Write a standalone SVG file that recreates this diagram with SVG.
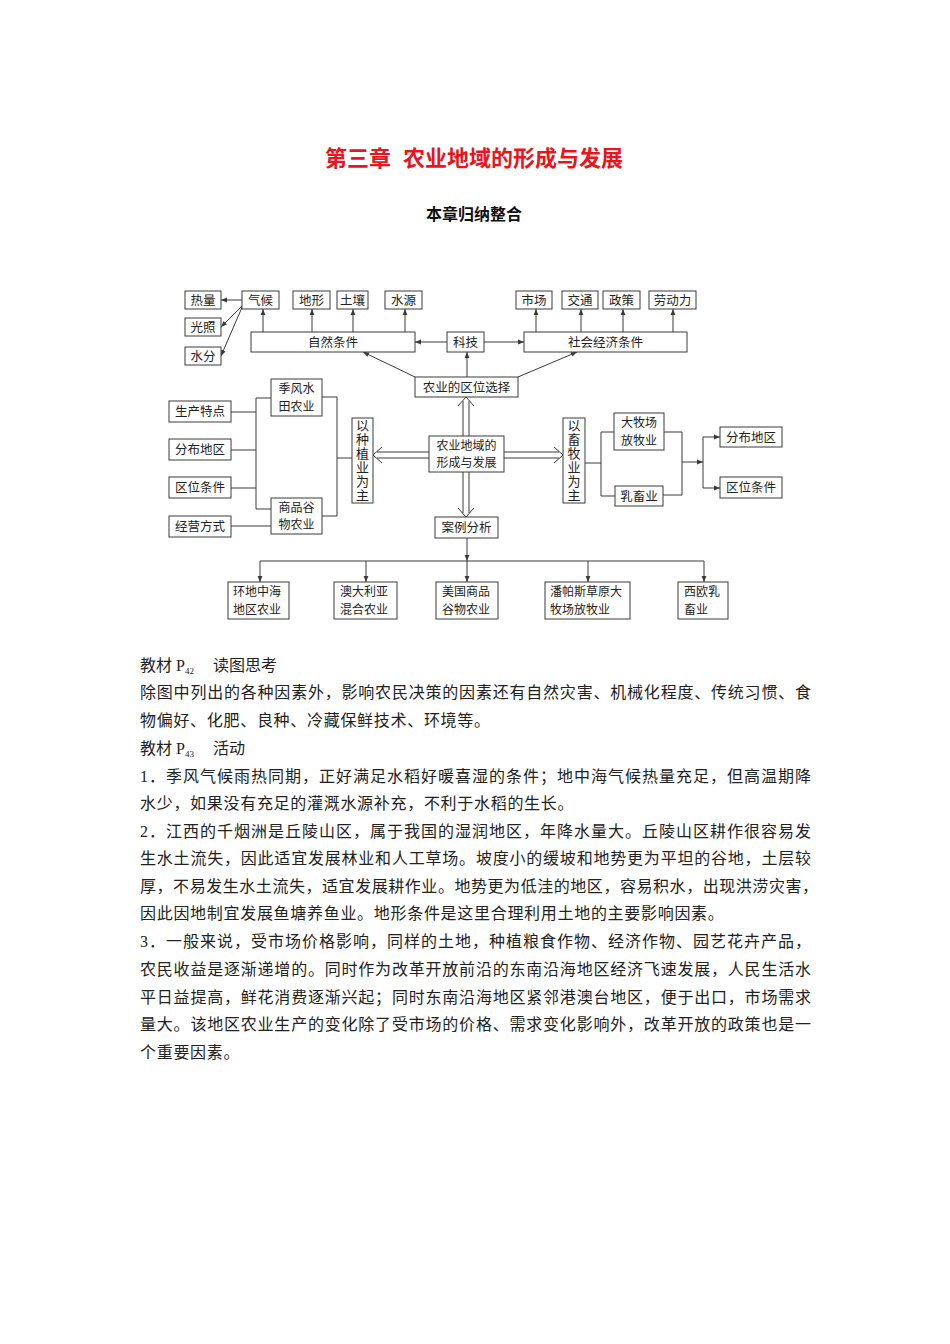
<svg xmlns="http://www.w3.org/2000/svg" width="950" height="1344" viewBox="0 0 950 1344">
<defs>
<style>
.b{fill:#fff;stroke:#3a3a3a;stroke-width:1}
.t{font-family:"Noto Sans CJK SC","Liberation Sans",sans-serif;font-size:12.5px;fill:#222;text-anchor:middle}
.t2{font-family:"Noto Sans CJK SC","Liberation Sans",sans-serif;font-size:12px;fill:#222;text-anchor:middle}
.tl{font-family:"Noto Sans CJK SC","Liberation Sans",sans-serif;font-size:12px;fill:#222}
.v{font-family:"Noto Sans CJK SC","Liberation Sans",sans-serif;font-size:13px;fill:#222;text-anchor:middle;writing-mode:vertical-rl;letter-spacing:1px}
.c{stroke:#3a3a3a;stroke-width:1;fill:none}
.ca{stroke:#3a3a3a;stroke-width:1;fill:none;marker-end:url(#ah)}
.p{font-family:"Liberation Serif","Noto Sans CJK SC",serif;font-size:16px;fill:#222;letter-spacing:0.7px}
.j{font-family:"Liberation Serif","Noto Sans CJK SC",serif;font-size:16px;fill:#222}
.sub{font-size:9px}
</style>
<marker id="ah" viewBox="0 0 10 10" refX="10" refY="5" markerWidth="7" markerHeight="6" orient="auto" markerUnits="userSpaceOnUse">
<path d="M0,1 L10,5 L0,9 z" fill="#3a3a3a"/>
</marker>
</defs>
<rect width="950" height="1344" fill="#fff"/>

<g id="title">
<text x="325" y="166" font-family="Noto Sans CJK SC,sans-serif" font-size="22" font-weight="bold" fill="#e8161c">第三章</text>
<text x="403" y="166" font-family="Noto Sans CJK SC,sans-serif" font-size="22" font-weight="bold" fill="#e8161c">农业地域的形成与发展</text>
<text x="474" y="220" font-family="Noto Sans CJK SC,sans-serif" font-size="16" font-weight="bold" fill="#111" text-anchor="middle">本章归纳整合</text>
</g>

<g id="connectors">
<line class="ca" x1="242" y1="300" x2="221" y2="300"/>
<line class="ca" x1="243" y1="305" x2="221" y2="327"/>
<line class="ca" x1="243" y1="305" x2="221" y2="356"/>
<line class="ca" x1="263" y1="332" x2="263" y2="309"/>
<line class="ca" x1="312" y1="332" x2="312" y2="309"/>
<line class="ca" x1="353" y1="332" x2="353" y2="309"/>
<line class="ca" x1="405" y1="332" x2="405" y2="309"/>
<line class="ca" x1="536" y1="332" x2="536" y2="309"/>
<line class="ca" x1="581" y1="332" x2="581" y2="309"/>
<line class="ca" x1="623" y1="332" x2="623" y2="309"/>
<line class="ca" x1="673" y1="332" x2="673" y2="309"/>
<line class="ca" x1="447" y1="342" x2="415" y2="342"/>
<line class="ca" x1="484" y1="342" x2="524" y2="342"/>
<line class="ca" x1="467" y1="377" x2="467" y2="352"/>
<line class="ca" x1="415" y1="377" x2="363" y2="352"/>
<line class="ca" x1="518" y1="377" x2="577" y2="352"/>
<path class="c" d="M463,436 V401 M469,436 V401 M458,406 L466,397 L474,406"/>
<path class="c" d="M463,472 V513 M469,472 V513 M458,508 L466,517 L474,508"/>
<path class="c" d="M429,452 H377 M429,458 H377 M382,447 L373,455 L382,463"/>
<path class="c" d="M504,452 H559 M504,458 H559 M554,447 L563,455 L554,463"/>
<path class="c" d="M271,398 H256 V509 H271"/>
<path class="c" d="M231,412 H256 M231,450 H256 M231,488 H256"/>
<path class="c" d="M231,526 H271"/>
<path class="c" d="M322,397 H337 V516 H322 M337,458 H352"/>
<path class="c" d="M585,463 H601 M614,432 H601 V496 H615"/>
<path class="c" d="M664,432 H682 V495 H663"/>
<line class="ca" x1="682" y1="462" x2="703" y2="462"/>
<path class="c" d="M703,437 V488"/>
<line class="ca" x1="703" y1="437" x2="720" y2="437"/>
<line class="ca" x1="703" y1="488" x2="720" y2="488"/>
<line class="ca" x1="467" y1="538" x2="467" y2="561"/>
<path class="c" d="M260,561 H704"/>
<line class="ca" x1="260" y1="561" x2="260" y2="582"/>
<line class="ca" x1="366" y1="561" x2="366" y2="582"/>
<line class="ca" x1="467" y1="561" x2="467" y2="582"/>
<line class="ca" x1="588" y1="561" x2="588" y2="582"/>
<line class="ca" x1="704" y1="561" x2="704" y2="582"/>
</g>

<g id="n-heat"><rect class="b" x="185" y="291" width="36" height="18"/><text class="t" x="203" y="304.5">热量</text></g>
<g id="n-light"><rect class="b" x="185" y="318" width="36" height="18"/><text class="t" x="203" y="331.5">光照</text></g>
<g id="n-water"><rect class="b" x="185" y="347" width="36" height="18"/><text class="t" x="203" y="360.5">水分</text></g>
<g id="n-climate"><rect class="b" x="242" y="291" width="37" height="18"/><text class="t" x="260.5" y="304.5">气候</text></g>
<g id="n-terrain"><rect class="b" x="293" y="291" width="37" height="18"/><text class="t" x="311.5" y="304.5">地形</text></g>
<g id="n-soil"><rect class="b" x="337" y="291" width="31" height="18"/><text class="t" x="352.5" y="304.5">土壤</text></g>
<g id="n-source"><rect class="b" x="385" y="291" width="37" height="18"/><text class="t" x="403.5" y="304.5">水源</text></g>
<g id="n-market"><rect class="b" x="516" y="291" width="36" height="18"/><text class="t" x="534" y="304.5">市场</text></g>
<g id="n-traffic"><rect class="b" x="562" y="291" width="36" height="18"/><text class="t" x="580" y="304.5">交通</text></g>
<g id="n-policy"><rect class="b" x="603" y="291" width="37" height="18"/><text class="t" x="621.5" y="304.5">政策</text></g>
<g id="n-labor"><rect class="b" x="649" y="291" width="47" height="18"/><text class="t" x="672.5" y="304.5">劳动力</text></g>

<g id="n-natural"><rect class="b" x="251" y="332" width="164" height="20"/><text class="t" x="333" y="346.5">自然条件</text></g>
<g id="n-tech"><rect class="b" x="447" y="332" width="37" height="20"/><text class="t" x="465.5" y="346.5">科技</text></g>
<g id="n-social"><rect class="b" x="524" y="332" width="163" height="20"/><text class="t" x="605.5" y="346.5">社会经济条件</text></g>
<g id="n-choice"><rect class="b" x="415" y="377" width="103" height="20"/><text class="t" x="466.5" y="391.5">农业的区位选择</text></g>

<g id="n-center"><rect class="b" x="429" y="436" width="75" height="36"/><text class="t2" x="466.5" y="449.5">农业地域的<tspan x="466.5" dy="17.5">形成与发展</tspan></text></g>

<g id="n-planting"><rect class="b" x="352" y="418" width="21" height="85"/><text class="v" x="362.5" y="460.5">以种植业为主</text></g>
<g id="n-paddy"><rect class="b" x="271" y="379" width="51" height="37"/><text class="t2" x="296.5" y="393">季风水<tspan x="296.5" dy="17.5">田农业</tspan></text></g>
<g id="n-grain"><rect class="b" x="271" y="498" width="51" height="36"/><text class="t2" x="296.5" y="511.5">商品谷<tspan x="296.5" dy="17.5">物农业</tspan></text></g>
<g id="n-feature"><rect class="b" x="169" y="401" width="62" height="21"/><text class="t" x="200" y="416">生产特点</text></g>
<g id="n-distL"><rect class="b" x="169" y="439" width="62" height="21"/><text class="t" x="200" y="454">分布地区</text></g>
<g id="n-locL"><rect class="b" x="169" y="477" width="62" height="21"/><text class="t" x="200" y="492">区位条件</text></g>
<g id="n-manage"><rect class="b" x="169" y="516" width="62" height="21"/><text class="t" x="200" y="531">经营方式</text></g>

<g id="n-livestock"><rect class="b" x="563" y="418" width="22" height="85"/><text class="v" x="574" y="460.5">以畜牧业为主</text></g>
<g id="n-ranch"><rect class="b" x="614" y="413" width="50" height="37"/><text class="t2" x="639" y="427">大牧场<tspan x="639" dy="17.5">放牧业</tspan></text></g>
<g id="n-dairy"><rect class="b" x="615" y="486" width="48" height="20"/><text class="t" x="639" y="500.5">乳畜业</text></g>
<g id="n-distR"><rect class="b" x="720" y="427" width="62" height="20"/><text class="t" x="751" y="441.5">分布地区</text></g>
<g id="n-locR"><rect class="b" x="720" y="477" width="62" height="21"/><text class="t" x="751" y="492">区位条件</text></g>

<g id="n-cases"><rect class="b" x="435" y="517" width="63" height="21"/><text class="t" x="466.5" y="532">案例分析</text></g>
<g id="n-med"><rect class="b" x="228" y="582" width="61" height="37"/><text class="tl" x="233" y="596">环地中海<tspan x="233" dy="17.5">地区农业</tspan></text></g>
<g id="n-aus"><rect class="b" x="334" y="582" width="63" height="37"/><text class="tl" x="340" y="596">澳大利亚<tspan x="340" dy="17.5">混合农业</tspan></text></g>
<g id="n-usa"><rect class="b" x="436" y="582" width="62" height="37"/><text class="tl" x="442" y="596">美国商品<tspan x="442" dy="17.5">谷物农业</tspan></text></g>
<g id="n-pampas"><rect class="b" x="545" y="582" width="85" height="37"/><text class="tl" x="550" y="596">潘帕斯草原大<tspan x="550" dy="17.5">牧场放牧业</tspan></text></g>
<g id="n-eu"><rect class="b" x="678" y="582" width="50" height="37"/><text class="tl" x="684" y="596">西欧乳<tspan x="684" dy="17.5">畜业</tspan></text></g>

<g id="body">
<text class="j" x="140" y="671">教材 P<tspan class="sub" dy="3">42</tspan><tspan dy="-3" x="213">读图思考</tspan></text>
<text class="j" x="140" y="698" textLength="671" lengthAdjust="spacing">除图中列出的各种因素外，影响农民决策的因素还有自然灾害、机械化程度、传统习惯、食</text>
<text class="p" x="140" y="726">物偏好、化肥、良种、冷藏保鲜技术、环境等。</text>
<text class="j" x="140" y="754">教材 P<tspan class="sub" dy="3">43</tspan><tspan dy="-3" x="213">活动</tspan></text>
<text class="j" x="140" y="782" textLength="671" lengthAdjust="spacing">1．季风气候雨热同期，正好满足水稻好暖喜湿的条件；地中海气候热量充足，但高温期降</text>
<text class="p" x="140" y="809">水少，如果没有充足的灌溉水源补充，不利于水稻的生长。</text>
<text class="j" x="140" y="837" textLength="671" lengthAdjust="spacing">2．江西的千烟洲是丘陵山区，属于我国的湿润地区，年降水量大。丘陵山区耕作很容易发</text>
<text class="j" x="140" y="864" textLength="671" lengthAdjust="spacing">生水土流失，因此适宜发展林业和人工草场。坡度小的缓坡和地势更为平坦的谷地，土层较</text>
<text class="j" x="140" y="892" textLength="678" lengthAdjust="spacing">厚，不易发生水土流失，适宜发展耕作业。地势更为低洼的地区，容易积水，出现洪涝灾害，</text>
<text class="p" x="140" y="919">因此因地制宜发展鱼塘养鱼业。地形条件是这里合理利用土地的主要影响因素。</text>
<text class="j" x="140" y="947" textLength="671" lengthAdjust="spacing">3．一般来说，受市场价格影响，同样的土地，种植粮食作物、经济作物、园艺花卉产品，</text>
<text class="j" x="140" y="975" textLength="671" lengthAdjust="spacing">农民收益是逐渐递增的。同时作为改革开放前沿的东南沿海地区经济飞速发展，人民生活水</text>
<text class="j" x="140" y="1003" textLength="671" lengthAdjust="spacing">平日益提高，鲜花消费逐渐兴起；同时东南沿海地区紧邻港澳台地区，便于出口，市场需求</text>
<text class="j" x="140" y="1030" textLength="671" lengthAdjust="spacing">量大。该地区农业生产的变化除了受市场的价格、需求变化影响外，改革开放的政策也是一</text>
<text class="p" x="140" y="1058">个重要因素。</text>
</g>
</svg>
